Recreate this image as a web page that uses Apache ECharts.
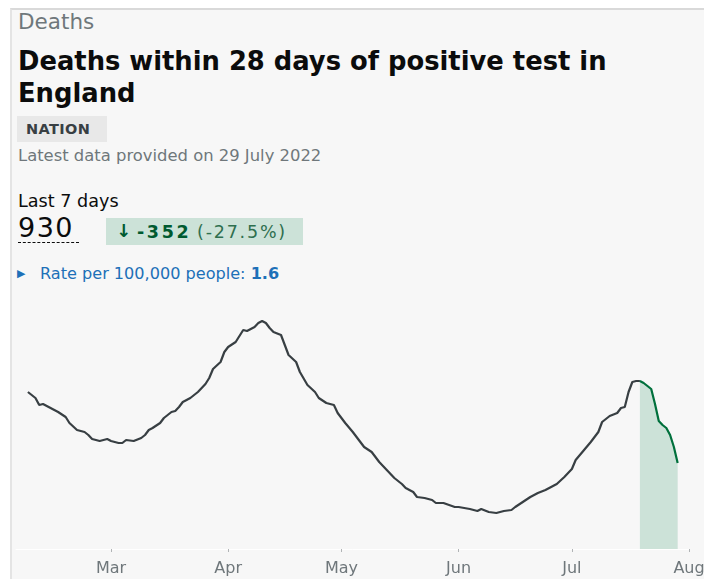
<!DOCTYPE html>
<html>
<head>
<meta charset="utf-8">
<script src="https://cdn.jsdelivr.net/npm/echarts@6/dist/echarts.min.js"></script>
<style>
  html, body { margin: 0; padding: 0; background: #ffffff; width: 704px; height: 579px; overflow: hidden; }
  #card { position: absolute; left: 10px; top: 8px; width: 694px; height: 571px; background: #f7f7f7;
          border-top: 2px solid #d9d9d9; border-left: 2px solid #e4e4e4; box-sizing: border-box; }
  .t { position: absolute; white-space: nowrap; font-family: "DejaVu Sans", sans-serif; }
  #chart { position: absolute; left: 0; top: 0; width: 704px; height: 579px; }
</style>
</head>
<body>
<div id="card"></div>
<div class="t" style="left:18px; top:10px; font-size:21.5px; color:#6f777b; line-height:24px;">Deaths</div>
<div class="t" style="left:18px; top:45px; font-size:25.8px; font-weight:700; color:#0b0c0c; line-height:32px;">Deaths within 28 days of positive test in<br>England</div>
<div class="t" style="left:17px; top:116px; width:90px; height:26px; background:#e8e8e8;"></div>
<div class="t" style="left:26px; top:120px; font-size:14.5px; font-weight:700; color:#383f43; line-height:18px; letter-spacing:0.4px;">NATION</div>
<div class="t" style="left:18px; top:146px; font-size:16.4px; color:#6f777b; line-height:20px;">Latest data provided on 29 July 2022</div>
<div class="t" style="left:18px; top:191px; font-size:17.6px; color:#0b0c0c; line-height:20px;">Last 7 days</div>
<div class="t" style="left:18px; top:212px; font-size:27px; color:#0b0c0c; line-height:32px; letter-spacing:1.5px;">930</div>
<div class="t" style="left:18px; top:242px; width:61px; height:0; border-top:1.5px dashed #0b0c0c;"></div>
<div class="t" style="left:106px; top:218px; width:197px; height:27px; background:#cce2d8;"></div>
<div class="t" style="left:116px; top:220px; font-size:18px; font-weight:700; color:#005a30; line-height:22px;">&#8595;</div>
<div class="t" style="left:137px; top:221px; font-size:17.5px; font-weight:700; color:#005a30; line-height:22px; letter-spacing:2.6px;">-352</div>
<div class="t" style="left:197px; top:221px; font-size:17.5px; color:#2f6f4f; line-height:22px; letter-spacing:1.8px;">(-27.5%)</div>
<div class="t" style="left:17px; top:265px; font-size:11px; color:#1d70b8; line-height:18px;">&#9654;</div>
<div class="t" style="left:40px; top:264px; font-size:16.1px; color:#1d70b8; line-height:20px;">Rate per 100,000 people: <b>1.6</b></div>
<div id="chart"></div>
<script>
// Daily deaths (rolling average shape)
const dates = [
  '2022-02-07','2022-02-09','2022-02-10','2022-02-11','2022-02-13','2022-02-15','2022-02-17','2022-02-18',
  '2022-02-20','2022-02-22','2022-02-23','2022-02-24','2022-02-26','2022-02-28','2022-03-01','2022-03-03',
  '2022-03-04','2022-03-05','2022-03-07','2022-03-09','2022-03-10','2022-03-11','2022-03-12','2022-03-14',
  '2022-03-15','2022-03-17','2022-03-18','2022-03-19','2022-03-20','2022-03-22','2022-03-24','2022-03-26',
  '2022-03-27','2022-03-28','2022-03-30','2022-03-31','2022-04-01','2022-04-03','2022-04-04','2022-04-05',
  '2022-04-06','2022-04-08','2022-04-09','2022-04-10','2022-04-11','2022-04-12','2022-04-13','2022-04-15',
  '2022-04-16','2022-04-17','2022-04-19','2022-04-20','2022-04-22','2022-04-24','2022-04-25','2022-04-27',
  '2022-04-29','2022-04-30','2022-05-02','2022-05-04','2022-05-06','2022-05-07','2022-05-09','2022-05-11',
  '2022-05-13','2022-05-15','2022-05-17','2022-05-18','2022-05-20','2022-05-21','2022-05-23','2022-05-25',
  '2022-05-26','2022-05-28','2022-05-31','2022-06-01','2022-06-04','2022-06-06','2022-06-07','2022-06-09',
  '2022-06-11','2022-06-13','2022-06-15','2022-06-16','2022-06-18','2022-06-20','2022-06-22','2022-06-24',
  '2022-06-27','2022-06-29','2022-07-01','2022-07-02','2022-07-04','2022-07-06','2022-07-08','2022-07-09',
  '2022-07-11','2022-07-13','2022-07-14','2022-07-15','2022-07-16','2022-07-17','2022-07-18','2022-07-19'
];
const values = [
  157,151,144,145,141,137,132,126,
  119,117,114,110,108,110,108,106,
  106,109,108,111,114,119,121,126,
  131,137,138,142,147,151,157,165,
  171,180,187,197,202,207,213,219,
  218,222,226,228,226,221,217,214,
  204,194,187,177,164,157,151,146,
  144,136,126,117,107,102,97,87,
  79,71,65,61,57,52,51,49,
  46,46,42,42,40,38,40,37,
  36,38,39,42,47,52,56,59,
  65,72,80,89,98,107,117,127,
  133,136,141,142,157,167,168,168
];
// Most recent period (highlighted in green)
const recentDates = ['2022-07-19','2022-07-20','2022-07-21','2022-07-22','2022-07-23','2022-07-24',
                     '2022-07-25','2022-07-26','2022-07-27','2022-07-28','2022-07-29'];
const recentValues = [168,166,163,160,145,128,124,121,114,102,86];
const monthLabels = ['Jan','Feb','Mar','Apr','May','Jun','Jul','Aug','Sep','Oct','Nov','Dec'];
const axisMin = '2022-02-03T20:24:00';
const axisMax = '2022-08-01';

const chart = echarts.init(document.getElementById('chart'), null, { renderer: 'canvas' });
chart.setOption({
  backgroundColor: 'transparent',
  animation: false,
  grid: { left: 16, right: 15, top: 300, bottom: 30, containLabel: false, outerBoundsMode: 'none' },
  xAxis: {
    type: 'time',
    min: axisMin,
    max: axisMax,
    splitNumber: 6,
    axisLine: { show: true, lineStyle: { color: '#ffffff', width: 1 } },
    axisTick: { show: true, length: 3, lineStyle: { color: '#b1b4b6' } },
    axisLabel: {
      color: '#6f777b', fontSize: 16, fontFamily: 'DejaVu Sans, sans-serif', margin: 12,
      showMinLabel: false, showMaxLabel: true, hideOverlap: false,
      formatter: function (v) { return monthLabels[new Date(v).getMonth()]; }
    },
    splitLine: { show: false }
  },
  yAxis: { type: 'value', min: 0, max: 249, show: false, splitLine: { show: false } },
  series: [
    {
      type: 'line', data: dates.map((d, i) => [d, values[i]]), showSymbol: false, symbol: 'none',
      lineStyle: { color: '#383f43', width: 2.2 }
    },
    {
      type: 'line', data: recentDates.map((d, i) => [d, recentValues[i]]), showSymbol: false, symbol: 'none',
      lineStyle: { color: '#00703c', width: 2.2 },
      areaStyle: { color: '#cce2d8', opacity: 1 }
    }
  ]
});
</script>
</body>
</html>
